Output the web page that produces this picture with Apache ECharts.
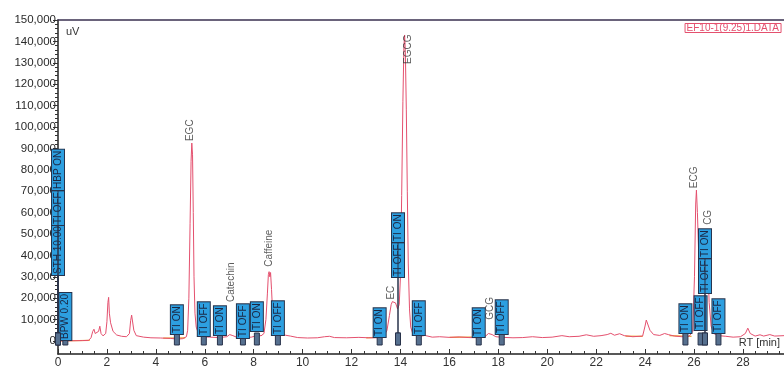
<!DOCTYPE html>
<html>
<head>
<meta charset="utf-8">
<script src="https://cdn.jsdelivr.net/npm/echarts@6/dist/echarts.min.js"></script>
<style>
  html, body { margin: 0; padding: 0; background: #ffffff; }
  #chart { width: 784px; height: 369px; }
</style>
</head>
<body>
<div id="chart"></div>
<script>
// Chromatogram trace: retention time (min) and detector signal (uV)
const rtMin = [
  0, 0.5, 1.0, 1.25, 1.35, 1.42, 1.47, 1.52, 1.6, 1.66, 1.71, 1.76, 1.84, 1.95,
  2.0, 2.04, 2.07, 2.1, 2.15, 2.25, 2.4, 2.6, 2.8, 2.92, 2.97, 3.01, 3.05, 3.1,
  3.2, 3.5, 3.8, 4.2, 4.6, 4.9, 5.1, 5.25, 5.3, 5.35, 5.4, 5.44, 5.47, 5.5,
  5.53, 5.56, 5.6, 5.65, 5.75, 5.9, 6.2, 6.6, 6.9, 7.02, 7.07, 7.15, 7.3, 7.6,
  7.9, 8.1, 8.2, 8.3, 8.42, 8.5, 8.56, 8.6, 8.63, 8.66, 8.69, 8.73, 8.78, 8.85,
  8.92, 9.0, 9.3, 9.5, 9.8, 10.2, 10.6, 10.9, 11.1, 11.3, 11.8, 12.3, 12.7,
  13.1, 13.3, 13.45, 13.55, 13.62, 13.67, 13.72, 13.8, 13.88, 13.95, 14.0,
  14.05, 14.1, 14.14, 14.17, 14.2, 14.24, 14.28, 14.32, 14.37, 14.42, 14.5,
  14.6, 14.8, 15.0, 15.3, 15.6, 16.0, 16.4, 16.8, 17.2, 17.45, 17.6, 17.67,
  17.75, 17.9, 18.2, 18.6, 19.0, 19.4, 19.8, 20.2, 20.6, 20.9, 21.3, 21.6,
  21.9, 22.2, 22.45, 22.6, 22.75, 22.96, 23.15, 23.5, 23.9, 24.0, 24.05, 24.1,
  24.2, 24.35, 24.6, 24.8, 24.86, 24.95, 25.2, 25.5, 25.8, 25.95, 26.02, 26.07,
  26.1, 26.14, 26.2, 26.3, 26.4, 26.46, 26.5, 26.55, 26.62, 26.7, 26.8, 27.0,
  27.3, 27.6, 27.9, 28.1, 28.2, 28.3, 28.5, 28.7, 28.85, 29.1, 29.3, 29.68
];
const signalUv = [
  0, 100, 200, 300, 1500, 4500, 5500, 3500, 2600, 4500, 6900, 3500, 2400, 3500,
  9000, 18000, 20400, 13000, 8500, 4500, 2800, 2200, 2000, 3500, 9500, 12100, 11500, 5000,
  2500, 1800, 1500, 1400, 1200, 900, 1100, 2000, 5000, 20000, 55000, 84000, 92500, 87000,
  60000, 30000, 13000, 6500, 3200, 2000, 1800, 1600, 2000, 3000, 3300, 2500, 1800, 1600,
  1800, 2400, 2800, 2400, 3500, 10000, 22000, 31000, 32400, 30000, 32000, 24000, 12000, 5000,
  3000, 2600, 2700, 2300, 1600, 1400, 1500, 2000, 2200, 1600, 1500, 1700, 1500,
  1500, 2000, 5000, 12000, 17000, 18400, 17500, 17800, 15000, 17000, 30000,
  68000, 112000, 137000, 143000, 135000, 108000, 70000, 36000, 15000, 6500, 3500,
  2600, 2200, 2600, 1800, 2000, 1700, 1900, 1600, 1500, 2000, 3500, 3900,
  3000, 2000, 1700, 1500, 1600, 2000, 1600, 1800, 2500, 2000, 2200, 2900,
  2200, 2500, 3000, 3600, 2700, 3400, 2500, 2000, 2300, 7000, 9800, 9000,
  5000, 3000, 2600, 3500, 4200, 3000, 2300, 2000, 2200, 4500, 30000, 64000,
  70500, 60000, 38000, 24000, 36000, 48000, 51000, 42000, 18000, 7000, 3500, 2500,
  2200, 1800, 2000, 3500, 6000, 3500, 2300, 2900, 2300, 3000, 2300, 2500
];

// Integration baseline stretches (min, uV); '-' breaks the line
const baselineRt = [0, 1.3, 1.3, 4.3, 5.2, 5.2, 12.6, 13.35, 13.35, 16.0, 17.45, 17.45, 23.2, 23.9, 23.9, 25.0, 25.9];
const baselineUv = [0, 300, '-', 1300, 1500, '-', 1500, 1900, '-', 1700, 1900, '-', 2300, 2200, '-', 2500, 2200];

// Identified peaks
const peakNames = ['EGC', 'Catechin', 'Caffeine', 'EC', 'EGCG', 'GCG', 'ECG', 'CG'];
const peakTimes = [5.47, 7.07, 8.63, 13.67, 14.17, 17.67, 26.1, 26.5];
const peakHeights = [92500, 3300, 32400, 18400, 143000, 3900, 70500, 51000];

// Integration time-program events
const eventTimes = [0.3, 0, 0, 0, 4.86, 5.96, 6.62, 7.56, 8.13, 8.99, 13.15, 13.9, 13.9,
  14.75, 17.2, 18.14, 25.65, 26.27, 26.45, 26.45, 27.0];
const eventNames = ['BPW 0.20', 'STH 10.00', 'TI OFF', 'HBP ON', 'TI ON', 'TI OFF', 'TI ON',
  'TI OFF', 'TI ON', 'TI OFF', 'TI ON', 'TI OFF', 'TI ON', 'TI OFF', 'TI ON', 'TI OFF',
  'TI ON', 'TI OFF', 'TI OFF', 'TI ON', 'TI OFF'];

// Axis settings
const rtMax = 29.68;
const rtStep = 2;
const uvMax = 150000;
const uvStep = 10000;
const seriesName = 'EF10-1(9.25)1.DATA';

// Layout of the event flags: pixel lift of each flag above the trace floor
const eventLift = [-5, 60, 110, 145, 1, -1, 0, -3, 4, 0, -2, 58, 93, 0, -2, 1, 2, 5, 42, 77, 2];
// Screen nudges [dx, dy] for the peak-name labels
const peakLabelShift = {
  EGC: [-2, 0], Catechin: [0, -30], Caffeine: [0, -3], EC: [-1, 0],
  EGCG: [4, 31], GCG: [0, -11], ECG: [-2, 0], CG: [2, -5]
};

const FONT = 'Liberation Sans, Arial, sans-serif';
const TRACE = '#e4506e';

const trace = rtMin.map((t, i) => [t, signalUv[i]]);
const baseline = baselineRt.map((t, i) => [t, baselineUv[i]]);
// label offsets act in the rotated (90°) text frame, so swap the screen nudge
const peaks = peakNames.map((n, i) => {
  const s = peakLabelShift[n] || [0, 0];
  return {
    name: n,
    value: [peakTimes[i], peakHeights[i]],
    label: { offset: [-s[1], s[0]] }
  };
});
const events = eventTimes.map((t, i) => ({ name: eventNames[i], value: [t, 0, eventLift[i]] }));

const fmt = v => v.toLocaleString('en-US');

const chart = echarts.init(document.getElementById('chart'));
chart.setOption({
  animation: false,
  backgroundColor: '#ffffff',
  title: {
    text: seriesName,
    right: 3, top: 23,
    padding: [0, 2],
    borderColor: TRACE, borderWidth: 1,
    textStyle: { color: TRACE, fontSize: 10, fontWeight: 'normal', fontFamily: FONT, lineHeight: 10 }
  },
  graphic: [
    { type: 'text', left: 66, top: 26, style: { text: 'uV', font: '11px ' + FONT, fill: '#333' } },
    { type: 'text', right: 4, top: 337, style: { text: 'RT [min]', font: '11px ' + FONT, fill: '#333' } }
  ],
  grid: [
    { left: 58, right: 0, top: 20, bottom: 15 },
    { left: 58, right: 0, top: 20, bottom: 28 }
  ],
  xAxis: [
    {
      type: 'value', gridIndex: 0, min: 0, max: rtMax, interval: rtStep,
      axisLine: { show: true, onZero: false, lineStyle: { color: '#222', width: 1.5 } },
      axisTick: { show: true, inside: true, length: 5, lineStyle: { color: '#333' } },
      minorTick: { show: true, splitNumber: 4, length: 3, lineStyle: { color: '#333' } },
      axisLabel: { show: true, showMaxLabel: false, margin: 3, fontSize: 12, color: '#333', fontFamily: FONT },
      splitLine: { show: false }
    },
    {
      type: 'value', gridIndex: 0, position: 'top', min: 0, max: rtMax,
      axisLine: { show: true, onZero: false, lineStyle: { color: '#3a3050', width: 1.5 } },
      axisTick: { show: false }, axisLabel: { show: false }, splitLine: { show: false }
    },
    {
      type: 'value', gridIndex: 1, min: 0, max: rtMax, show: false
    }
  ],
  yAxis: [
    {
      type: 'value', gridIndex: 0, min: -6075, max: uvMax,
      axisLine: { show: true, onZero: false, lineStyle: { color: '#222', width: 1.5 } },
      axisTick: { show: false }, axisLabel: { show: false }, splitLine: { show: false }
    },
    {
      type: 'value', gridIndex: 1, min: 0, max: uvMax, interval: uvStep,
      axisLine: { show: false },
      axisTick: { show: true, length: 5, lineStyle: { color: '#333' } },
      minorTick: { show: true, splitNumber: 5, length: 3, lineStyle: { color: '#333' } },
      axisLabel: { formatter: fmt, margin: 2, fontSize: 11.5, color: '#2a2a2a', fontFamily: FONT },
      splitLine: { show: false }
    }
  ],
  series: [
    {
      type: 'line', name: 'baseline', xAxisIndex: 0, yAxisIndex: 0,
      data: baseline, symbol: 'none', z: 1,
      lineStyle: { color: '#f0a43a', width: 1.2 }
    },
    {
      type: 'line', name: seriesName, xAxisIndex: 0, yAxisIndex: 0,
      data: trace, symbol: 'none', z: 2,
      lineStyle: { color: TRACE, width: 1 }
    },
    {
      type: 'scatter', name: 'peaks', xAxisIndex: 0, yAxisIndex: 0,
      data: peaks, symbolSize: 0, z: 3, silent: true,
      label: {
        show: true, position: 'top', distance: 2, rotate: 90,
        align: 'left', verticalAlign: 'middle',
        formatter: p => p.name, fontSize: 10, color: '#333', fontFamily: FONT
      }
    },
    {
      type: 'custom', name: 'events', xAxisIndex: 0, yAxisIndex: 0,
      data: events, z: 5, clip: false, silent: true,
      renderItem: (params, api) => {
        const t = api.value(0);
        const lift = api.value(2);
        const base = api.coord([t, 0]);
        const x = base[0];
        const floor = base[1] - 6;
        const bottom = floor - lift;
        const children = [
          {
            type: 'rect',
            shape: { x: x - 2.5, y: base[1] - 8, width: 5, height: 12 },
            style: { fill: '#56708f', stroke: '#28324a', lineWidth: 1 }
          }
        ];
        if (lift > 6) {
          children.push({
            type: 'line',
            shape: { x1: x, y1: base[1] - 8, x2: x, y2: bottom },
            style: { stroke: '#28324a', lineWidth: 1 }
          });
        }
        children.push({
          type: 'text', x: x, y: bottom, rotation: Math.PI / 2,
          style: {
            text: events[params.dataIndex].name,
            font: '10px ' + FONT, fill: '#1a2744',
            align: 'left', verticalAlign: 'middle',
            backgroundColor: '#2d9fe0', borderColor: '#26344e', borderWidth: 1,
            padding: [1, 1]
          }
        });
        return { type: 'group', children };
      }
    }
  ]
});
</script>
</body>
</html>
